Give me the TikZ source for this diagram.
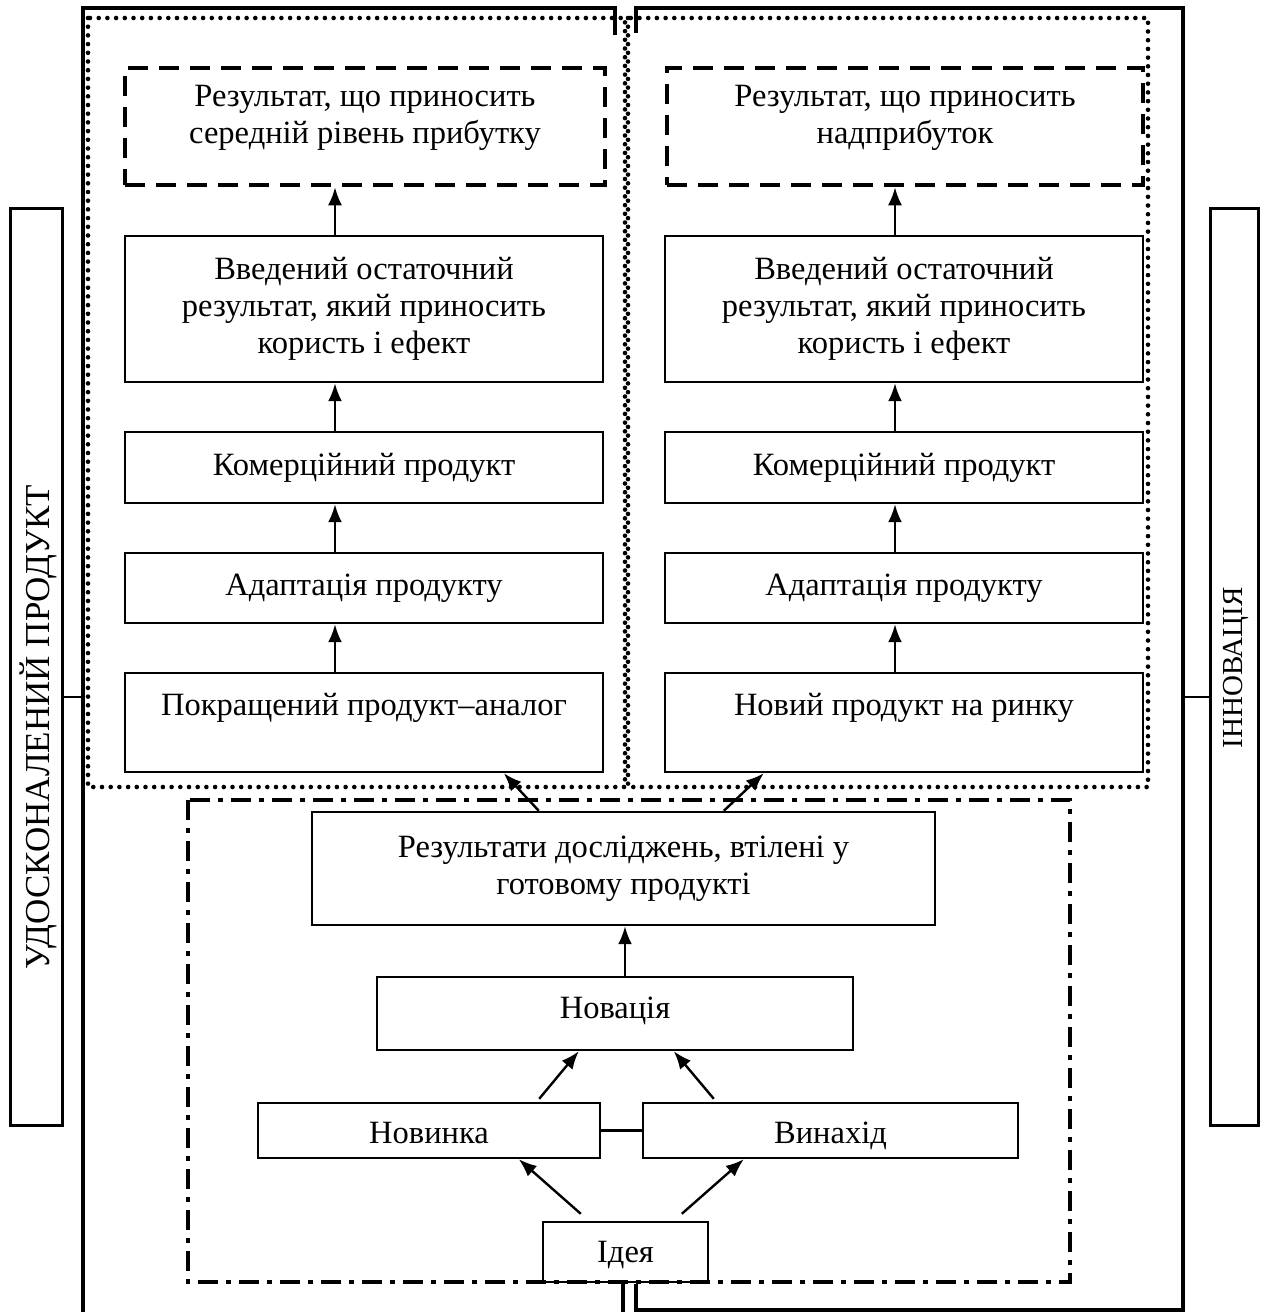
\documentclass[tikz,border=0pt]{standalone}
\usepackage{fontspec}
\setmainfont{Liberation Serif}
\usetikzlibrary{arrows.meta}
\begin{document}
\begin{tikzpicture}[x=1pt,y=-1pt,
  box/.style={draw, line width=2.4pt, align=center, inner sep=0pt,
    font=\fontsize{32.5}{37}\selectfont},
  one/.style={text height=26pt, text depth=11pt},
  dashbox/.style={box, line width=4.6pt, dash pattern=on 20pt off 11pt},
  sidebox/.style={draw, line width=3pt, inner sep=0pt},
  sidetext/.style={rotate=90, inner sep=0pt},
  arr/.style={line width=2.4pt, -{Latex[length=18pt,width=14pt]}},
  link/.style={line width=2.4pt},
  bracket/.style={line width=3.2pt},
  dotbox/.style={line width=4.6pt, dash pattern=on 0pt off 8.7pt, line cap=round},
  dashdot/.style={line width=4.4pt, dash pattern=on 20pt off 8pt on 5pt off 8pt}
]
\useasboundingbox (0,0) rectangle (1268,1312);

% frames
\draw[dotbox] (88,18) rectangle (625,787);
\draw[dotbox] (628,18) rectangle (1148,787);
\draw[dashdot] (188,800) rectangle (1070,1282);

% brackets
\draw[bracket] (615,35) -- (615,8) -- (83,8) -- (83,1312);
\draw[bracket] (636,33) -- (636,8) -- (1183,8) -- (1183,1310) -- (636,1310) -- (636,1284);
\draw[bracket] (623,1284) -- (623,1312);
\coordinate (bl) at (83,697);
\coordinate (br) at (1183,697);

% side boxes
\node[sidebox, minimum width=52, minimum height=917] (udo) at (36,666.5) {};
\node[sidetext, font=\fontsize{35}{38}\selectfont] (udot) at (38,727) {УДОСКОНАЛЕНИЙ ПРОДУКТ};
\node[sidebox, minimum width=48, minimum height=917] (inn) at (1234,666.5) {};
\node[sidetext, font=\fontsize{29}{32}\selectfont] (innt) at (1236,668) {ІННОВАЦІЯ};
\draw[link] (udo.east |- bl) -- (bl);
\draw[link] (br) -- (inn.west |- br);

% left column
\node[dashbox, minimum width=480, minimum height=117] (d1) at (365,126.5) {Результат, що приносить\\середній рівень прибутку\\[-12pt]};
\node[box, minimum width=478, minimum height=146] (l1) at (364,309) {Введений остаточний\\результат, який приносить\\користь і ефект};
\node[box, one, minimum width=478, minimum height=71] (l2) at (364,467.5) {Комерційний продукт};
\node[box, one, minimum width=478, minimum height=70] (l3) at (364,588) {Адаптація продукту};
\node[box, minimum width=478, minimum height=99] (l4) at (364,722.5) {Покращений продукт–аналог\\\mbox{}};

% right column
\node[dashbox, minimum width=476, minimum height=117] (d2) at (905,126.5) {Результат, що приносить\\надприбуток\\[-12pt]};
\node[box, minimum width=478, minimum height=146] (r1) at (904,309) {Введений остаточний\\результат, який приносить\\користь і ефект};
\node[box, one, minimum width=478, minimum height=71] (r2) at (904,467.5) {Комерційний продукт};
\node[box, one, minimum width=478, minimum height=70] (r3) at (904,588) {Адаптація продукту};
\node[box, minimum width=478, minimum height=99] (r4) at (904,722.5) {Новий продукт на ринку\\\mbox{}};

\coordinate (xl) at (335,0);
\coordinate (xr) at (895,0);
\draw[arr] (l1.north -| xl) -- (d1.south -| xl);
\draw[arr] (l2.north -| xl) -- (l1.south -| xl);
\draw[arr] (l3.north -| xl) -- (l2.south -| xl);
\draw[arr] (l4.north -| xl) -- (l3.south -| xl);
\draw[arr] (r1.north -| xr) -- (d2.south -| xr);
\draw[arr] (r2.north -| xr) -- (r1.south -| xr);
\draw[arr] (r3.north -| xr) -- (r2.south -| xr);
\draw[arr] (r4.north -| xr) -- (r3.south -| xr);

% lower part
\node[box, minimum width=623, minimum height=113] (res) at (623.5,868.5) {Результати досліджень, втілені у\\готовому продукті};
\node[box, text height=23pt, text depth=13pt, minimum width=476, minimum height=73] (nova) at (615,1013.5) {Новація};
\node[box, text height=33pt, text depth=8pt, minimum width=342, minimum height=55] (novy) at (429,1130.5) {Новинка};
\node[box, text height=33pt, text depth=8pt, minimum width=375, minimum height=55] (vyn) at (830.5,1130.5) {Винахід};
\node[box, text height=30pt, text depth=10pt, minimum width=165, minimum height=60] (idea) at (625.5,1252) {Ідея};

\draw[arr] ([xshift=228pt]res.north west) -- ([xshift=380pt]l4.south west);
\draw[arr] ([xshift=413pt]res.north west) -- ([xshift=100pt]r4.south west);
\draw[arr] ([xshift=10pt]nova.north) -- ([xshift=10pt]nova.north |- res.south);
\draw[arr] ([xshift=-62pt, yshift=3pt]novy.north east) -- ([xshift=203pt]nova.south west);
\draw[arr] ([xshift=72pt, yshift=3pt]vyn.north west) -- ([xshift=298pt]nova.south west);
\draw[link] (novy.east) -- (vyn.west);
\draw[arr] ([xshift=39pt, yshift=7pt]idea.north west) -- ([xshift=262pt]novy.south west);
\draw[arr] ([xshift=140pt, yshift=7pt]idea.north west) -- ([xshift=102pt]vyn.south west);
\end{tikzpicture}
\end{document}
